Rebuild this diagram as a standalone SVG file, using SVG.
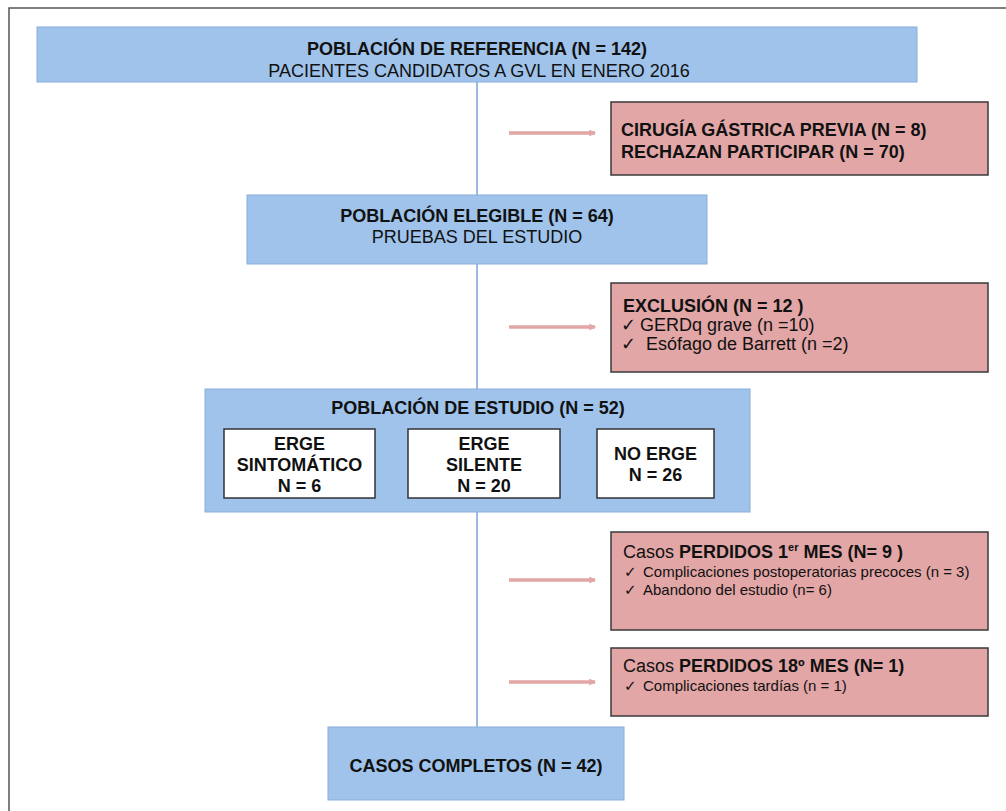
<svg xmlns="http://www.w3.org/2000/svg" width="1006" height="811" viewBox="0 0 1006 811">
  <defs>
    <style>
      .blue { fill: #9fc3ea; stroke: #8aaedb; stroke-width: 1; }
      .pink { fill: #e2a6a6; stroke: #3a3a3a; stroke-width: 1.5; }
      .white { fill: #ffffff; stroke: #333333; stroke-width: 1.5; }
      .t { font-family: "Liberation Sans", Arial, sans-serif; font-size: 18px; fill: #111; }
      .b { font-weight: bold; }
      .c { text-anchor: middle; }
      .s { font-size: 15px; }
      .chk { font-family: "DejaVu Sans", sans-serif; font-size: 18px; fill: #111; }
      .chk2 { font-family: "DejaVu Sans", sans-serif; font-size: 15px; fill: #111; }
      .vline { stroke: #7aa3d8; stroke-width: 1.5; fill: none; }
      .arrow { stroke: #e2a6a6; stroke-width: 3.5; fill: none; marker-end: url(#ah); }
    </style>
    <marker id="ah" viewBox="0 0 6 6" refX="5" refY="3" markerWidth="2" markerHeight="2" orient="auto" markerUnits="strokeWidth">
      <path d="M0,0 L6,3 L0,6 z" fill="#e2a6a6"/>
    </marker>
  </defs>

  <rect x="0" y="0" width="1006" height="811" fill="#ffffff"/>
  <!-- outer frame (top and left edges) -->
  <path d="M9,811 L9,8 L1006,8" fill="none" stroke="#555555" stroke-width="1.5"/>

  <g id="connectors">
    <line class="vline" x1="477" y1="82" x2="477" y2="195"/>
    <line class="vline" x1="477" y1="264" x2="477" y2="389"/>
    <line class="vline" x1="477" y1="512" x2="477" y2="727"/>
    <line class="arrow" x1="509" y1="133" x2="595" y2="133"/>
    <line class="arrow" x1="509" y1="327" x2="595" y2="327"/>
    <line class="arrow" x1="509" y1="580" x2="595" y2="580"/>
    <line class="arrow" x1="509" y1="682" x2="595" y2="682"/>
  </g>

  <g id="poblacion-referencia">
    <rect class="blue" x="37" y="27" width="880" height="55"/>
    <text class="t b c" x="477" y="55">POBLACIÓN DE REFERENCIA (N = 142)</text>
    <text class="t c" x="479" y="76.5">PACIENTES CANDIDATOS A GVL EN ENERO 2016</text>
  </g>

  <g id="exclusion-previa">
    <rect class="pink" x="611" y="102" width="377" height="73"/>
    <text class="t b" x="621" y="136">CIRUGÍA GÁSTRICA PREVIA (N = 8)</text>
    <text class="t b" x="621" y="158">RECHAZAN PARTICIPAR (N = 70)</text>
  </g>

  <g id="poblacion-elegible">
    <rect class="blue" x="247" y="195" width="460" height="69"/>
    <text class="t b c" x="477" y="222">POBLACIÓN ELEGIBLE (N = 64)</text>
    <text class="t c" x="477" y="243">PRUEBAS DEL ESTUDIO</text>
  </g>

  <g id="exclusion">
    <rect class="pink" x="611" y="283" width="377" height="89"/>
    <text class="t b" x="623" y="312">EXCLUSIÓN (N = 12 )</text>
    <text class="chk" x="621" y="331">✓</text>
    <text class="t" x="640" y="331">GERDq grave (n =10)</text>
    <text class="chk" x="621" y="350">✓</text>
    <text class="t" x="646" y="350">Esófago de Barrett (n =2)</text>
  </g>

  <g id="poblacion-estudio">
    <rect class="blue" x="205" y="389" width="545" height="123"/>
    <text class="t b c" x="478" y="414">POBLACIÓN DE ESTUDIO (N = 52)</text>
  </g>

  <g id="erge-sintomatico">
    <rect class="white" x="224" y="429" width="151" height="69"/>
    <text class="t b c" x="299.5" y="450">ERGE</text>
    <text class="t b c" x="299.5" y="471">SINTOMÁTICO</text>
    <text class="t b c" x="299.5" y="492">N = 6</text>
  </g>

  <g id="erge-silente">
    <rect class="white" x="408" y="429" width="152" height="69"/>
    <text class="t b c" x="484" y="450">ERGE</text>
    <text class="t b c" x="484" y="471">SILENTE</text>
    <text class="t b c" x="484" y="492">N = 20</text>
  </g>

  <g id="no-erge">
    <rect class="white" x="597" y="429" width="117" height="69"/>
    <text class="t b c" x="655.5" y="460">NO ERGE</text>
    <text class="t b c" x="655.5" y="481">N = 26</text>
  </g>

  <g id="perdidos-1-mes">
    <rect class="pink" x="611" y="532" width="377" height="98"/>
    <text class="t" x="623" y="558">Casos <tspan class="b">PERDIDOS 1</tspan><tspan class="b" font-size="11" dy="-7">er</tspan><tspan class="b" dy="7"> MES (N= 9 )</tspan></text>
    <text class="chk2" x="624" y="577">✓</text>
    <text class="t s" x="643" y="577">Complicaciones postoperatorias precoces (n = 3)</text>
    <text class="chk2" x="624" y="595">✓</text>
    <text class="t s" x="643" y="595">Abandono del estudio (n= 6)</text>
  </g>

  <g id="perdidos-18-mes">
    <rect class="pink" x="611" y="648" width="377" height="68"/>
    <text class="t" x="623" y="672">Casos <tspan class="b">PERDIDOS 18º MES (N= 1)</tspan></text>
    <text class="chk2" x="624" y="691">✓</text>
    <text class="t s" x="643" y="691">Complicaciones tardías (n = 1)</text>
  </g>

  <g id="casos-completos">
    <rect class="blue" x="328" y="727" width="296" height="73"/>
    <text class="t b c" x="476" y="772">CASOS COMPLETOS (N = 42)</text>
  </g>
</svg>
